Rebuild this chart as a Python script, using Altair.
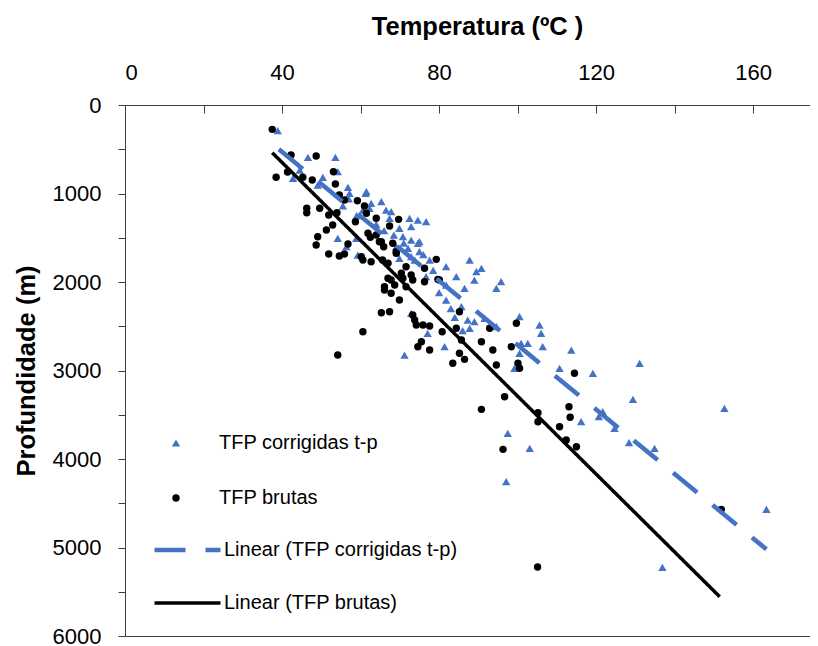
import altair as alt
import pandas as pd

S1 = "TFP corrigidas t-p"
S2 = "TFP brutas"
T1 = "Linear (TFP corrigidas t-p)"
T2 = "Linear (TFP brutas)"

blue_temp = [38.9, 46.6, 53.6, 42.8, 44.5, 50.4, 54.2, 49.1, 56.8, 57.2, 61.3, 61.5, 55.5, 62.7, 65.3,
             60.6, 62.3, 66.5, 67.8, 67.4, 72.5, 74.6, 76.7, 72.9, 69.9, 70.8, 72.9, 75.0, 54.2, 58.9,
             56.4, 59.3, 69.1, 72.1, 74.6, 75.0, 72.9, 69.9, 73.8, 77.6, 76.7, 81.8, 87.8, 84.4, 89.5,
             89.0, 90.8, 95.8, 94.6, 81.8, 86.5, 81.8, 85.7, 72.9, 87.3, 89.0, 87.8, 91.6, 100.5, 105.6,
             94.6, 100.9, 102.6, 106.4, 113.7, 100.5, 110.7, 81.4, 71.2, 77.1, 106.0, 99.2, 119.2, 131.1,
             129.4, 116.2, 120.7, 121.7, 124.7, 128.4, 97.5, 103.1, 97.1, 152.7, 134.9, 163.4, 136.9,
             57.0, 59.0, 64.0, 66.0, 68.5, 71.0, 76.0, 78.5, 80.0, 83.0, 84.0, 86.0]
blue_depth = [290, 591, 591, 828, 735, 817, 754, 904, 930, 998, 998, 980, 1141, 1111, 1093,
              1187, 1167, 1187, 1206, 1280, 1280, 1300, 1319, 1375, 1393, 1488, 1526, 1545, 1506, 1506,
              1601, 1695, 1601, 1619, 1563, 1658, 1714, 1732, 1752, 1752, 1940, 1827, 1752, 1940, 1884,
              1978, 1845, 1997, 2071, 2034, 2071, 2204, 2279, 2354, 2430, 2449, 2523, 2410, 2392, 2486,
              2505, 2693, 2693, 2731, 2769, 2806, 2975, 2731, 2825, 2580, 2580, 2975, 3032, 2919,
              3326, 3579, 3522, 3466, 3653, 3816, 3710, 3879, 4257, 3427, 3879, 4569, 5224,
              1060, 1250, 1350, 1420, 1470, 1560, 1690, 1870, 2120, 2300, 2400, 2550]

black_temp = [37.5, 42.3, 48.7, 38.5, 53.1, 53.6, 47.7, 46.3, 46.3, 49.6, 51.9, 54.0, 55.9, 59.2, 61.0,
              61.5, 58.7, 64.0, 69.7, 49.1, 48.7, 51.3, 52.9, 56.8, 61.9, 62.5, 65.3, 65.9, 67.4, 68.2,
              45.3, 51.9, 54.6, 55.9, 60.6, 62.7, 65.6, 69.1, 67.0, 67.8, 70.8, 72.9, 71.6, 66.1, 67.8,
              69.9, 79.3, 79.7, 76.3, 65.3, 67.4, 60.6, 54.2, 73.3, 73.8, 74.2, 75.9, 77.6, 80.8, 85.2,
              84.4, 74.6, 75.5, 77.6, 83.5, 85.7, 85.2, 86.5, 90.8, 92.9, 93.7, 94.6, 98.4, 99.7, 100.1,
              100.5, 114.5, 96.7, 90.8, 105.2, 105.2, 113.1, 113.4, 110.7, 112.4, 115.0, 96.3, 151.9, 105.1,
              41.4, 54.6, 64.0, 64.8, 69.1, 60.2, 67.0, 71.6, 70.4, 76.3, 66.1, 68.7, 73.3, 80.1]
black_depth = [275, 565, 576, 817, 754, 893, 848, 1167, 1217, 1167, 1243, 1217, 1074, 1081, 1141,
               1224, 1319, 1280, 1292, 1488, 1582, 1413, 1356, 1571, 1450, 1495, 1545, 1601, 1367, 1563,
               817, 1684, 1706, 1684, 1752, 1771, 1752, 1676, 1958, 1978, 1958, 1921, 2053, 2091, 2128,
               2204, 1744, 1970, 1997, 2347, 2336, 2562, 2825, 2373, 2430, 2486, 2486, 2497, 2562, 2336,
               2523, 2731, 2675, 2769, 2919, 2656, 2806, 2874, 2675, 2523, 2769, 2938, 2731, 2467, 2919,
               2975, 3032, 3296, 3439, 3477, 3579, 3409, 3529, 3635, 3786, 3861, 3891, 4569, 5221,
               757, 1017, 1469, 1545, 1658, 1714, 1789, 1827, 1902, 1845, 2053, 2034, 1978, 1978]

trend_series = [T1, T1, T2, T2]
trend_temp = [39.2, 163.4, 37.5, 151.5]
trend_depth = [500, 5020, 539, 5556]

x_ticks = [0, 20, 40, 60, 80, 100, 120, 140, 160]
y_ticks = [0, 500, 1000, 1500, 2000, 2500, 3000, 3500, 4000, 4500, 5000, 5500, 6000]

BLUE = "#4472C4"
AX = "#404040"
FONT = "Liberation Sans"

pts = pd.DataFrame({
    "temp": blue_temp + black_temp,
    "depth": blue_depth + black_depth,
    "series": [S1] * len(blue_temp) + [S2] * len(black_temp),
})
pts["ord"] = range(len(pts))
tr = pd.DataFrame({"temp": trend_temp, "depth": trend_depth, "trend": trend_series})

x_scale = alt.Scale(domain=[0, 174.5], nice=False, zero=False)
y_scale = alt.Scale(domain=[0, 6000], reverse=True, nice=False)

y_axis = alt.Axis(
    orient="left", values=y_ticks, labelExpr="datum.value % 1000 === 0 ? datum.label : ''",
    format="d", tickSize=7, tickColor=AX, domainColor=AX, grid=False,
    labelFont=FONT, labelFontSize=22, labelColor="black", labelPadding=17,
    title="Profundidade (m)", titleFont=FONT, titleFontSize=25.5, titleFontWeight="bold",
    titleColor="black", titlePadding=13,
)

leg1 = alt.Legend(
    title=None, orient="none", legendX=41, legendY=327, direction="vertical",
    symbolSize=40, labelFont=FONT, labelFontSize=20, labelColor="black", labelLimit=0,
    labelOffset=33, rowPadding=33, clipHeight=22, padding=0, symbolStrokeWidth=0,
)
leg2 = alt.Legend(
    title=None, orient="none", legendX=27, legendY=434, direction="vertical",
    symbolType="stroke", symbolSize=4356, symbolStrokeWidth=4,
    labelFont=FONT, labelFontSize=20, labelColor="black", labelLimit=0,
    labelOffset=1, rowPadding=31, clipHeight=22, padding=0,
)

points = alt.Chart(pts).mark_point(filled=True, opacity=1).encode(
    x=alt.X("temp:Q", scale=x_scale, axis=alt.Axis(
        orient="top", values=x_ticks, labelExpr="datum.value % 40 === 0 ? datum.label : ''",
        offset=-8, domain=False, tickSize=8, tickColor=AX, grid=False,
        labelFont=FONT, labelFontSize=22, labelColor="black", labelPadding=21,
        title="Temperatura (ºC )", titleFont=FONT, titleFontSize=25.5, titleFontWeight="bold",
        titleColor="black", titlePadding=22, titleX=352)),
    y=alt.Y("depth:Q", scale=y_scale, axis=y_axis),
    color=alt.Color("series:N", scale=alt.Scale(domain=[S1, S2], range=[BLUE, "black"]), legend=leg1),
    shape=alt.Shape("series:N", scale=alt.Scale(domain=[S1, S2], range=["triangle-up", "circle"]), legend=leg1),
    size=alt.Size("series:N", scale=alt.Scale(domain=[S1, S2], range=[70, 55]), legend=None),
    order=alt.Order("ord:Q"),
)

trend = alt.Chart(tr).mark_line().encode(
    x=alt.X("temp:Q", scale=x_scale, axis=alt.Axis(
        orient="bottom", labels=False, ticks=False, title=None, domainColor=AX, grid=False)),
    y=alt.Y("depth:Q", scale=y_scale, axis=y_axis),
    stroke=alt.Stroke("trend:N", scale=alt.Scale(domain=[T1, T2], range=[BLUE, "black"]), legend=leg2),
    strokeDash=alt.StrokeDash("trend:N", scale=alt.Scale(domain=[T1, T2], range=[[31, 20], [1, 0]]), legend=leg2),
    strokeWidth=alt.StrokeWidth("trend:N", scale=alt.Scale(domain=[T1, T2], range=[4.5, 3.5]), legend=None),
)

frame_top = alt.Chart(tr).mark_line(opacity=0).encode(
    x=alt.X("temp:Q", scale=x_scale, axis=alt.Axis(
        orient="top", labels=False, ticks=False, title=None, domainColor=AX, grid=False)),
    y=alt.Y("depth:Q", scale=y_scale, axis=y_axis),
    detail="trend:N",
)

chart = alt.layer(points, trend, frame_top).resolve_axis(x="independent").properties(
    width=685, height=531,
    autosize=alt.AutoSizeParams(type="none"),
    padding={"left": 117, "top": 97, "right": 0, "bottom": 10},
).configure_view(stroke=None)

chart.save("out.html", embed_options={"renderer": "svg", "actions": False})
